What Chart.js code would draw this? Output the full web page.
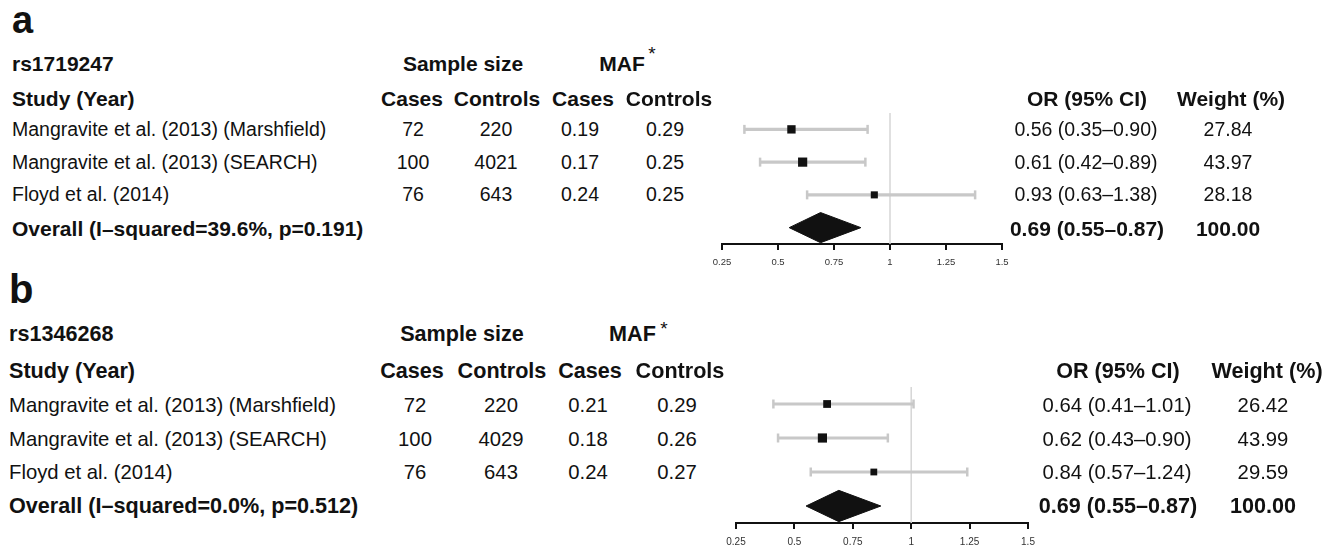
<!DOCTYPE html>
<html>
<head>
<meta charset="utf-8">
<script src="https://cdn.jsdelivr.net/npm/chart.js@4.4.1/dist/chart.umd.min.js"></script>
<style>
body { margin:0; background:#fff; width:1323px; height:545px; overflow:hidden; position:relative; }
.t { position:absolute; line-height:1; white-space:nowrap; font-family:'Liberation Sans', Arial, Helvetica, sans-serif; color:#111; }
.plot { position:absolute; }
</style>
</head>
<body>
<div class="plot" id="boxA"><canvas id="plotA"></canvas></div>
<div class="plot" id="boxB"><canvas id="plotB"></canvas></div>
<script>
// DATA
const studies = ['Mangravite et al. (2013) (Marshfield)', 'Mangravite et al. (2013) (SEARCH)', 'Floyd et al. (2014)'];
const xTicks = [0.25, 0.5, 0.75, 1, 1.25, 1.5];
const refValue = 1;

// rs1719247
const snpA = 'rs1719247';
const casesA = [72, 100, 76];
const controlsA = [220, 4021, 643];
const mafCasesA = ['0.19', '0.17', '0.24'];
const mafControlsA = ['0.29', '0.25', '0.25'];
const orA = [0.56, 0.61, 0.93];
const lowA = [0.35, 0.42, 0.63];
const highA = [0.90, 0.89, 1.38];
const weightA = [27.84, 43.97, 28.18];
const overallA = [0.69, 0.55, 0.87];   // OR, low, high
const overallWeightA = 100;
const hetA = 'Overall (I\u2013squared=39.6%, p=0.191)';

// rs1346268
const snpB = 'rs1346268';
const casesB = [72, 100, 76];
const controlsB = [220, 4029, 643];
const mafCasesB = ['0.21', '0.18', '0.24'];
const mafControlsB = ['0.29', '0.26', '0.27'];
const orB = [0.64, 0.62, 0.84];
const lowB = [0.41, 0.43, 0.57];
const highB = [1.01, 0.90, 1.24];
const weightB = [26.42, 43.99, 29.59];
const overallB = [0.69, 0.55, 0.87];
const overallWeightB = 100;
const hetB = 'Overall (I\u2013squared=0.0%, p=0.512)';

// LAYOUT (pixels)
const layoutA = {
  tag: 'a', tagX: 12, tagY: 20, tagSize: 38,
  left: 12, headY: 62.5, subY: 97.5, rowY: [130, 162.5, 195], allY: 228,
  headCols: [412, 497, 583, 669, 1087, 1231],
  cols: [413, 496, 580, 665, 1086, 1228],
  sampleX: 463, mafX: 622, starX: 652, starY: 53,
  norm: 19.5, bold: 21,
  box: { left: 702.3, top: 103, width: 320, height: 171 },
  tickSize: 9.5, boxR: [5.9, 6.5, 5.0]
};
const layoutB = {
  tag: 'b', tagX: 9, tagY: 289, tagSize: 40,
  left: 9, headY: 333.5, subY: 371, rowY: [405, 438.5, 472], allY: 506,
  headCols: [412, 502, 590, 680, 1118, 1267],
  cols: [415, 501, 588, 677, 1117, 1263],
  sampleX: 462, mafX: 632.5, starX: 664, starY: 328,
  norm: 20.3, bold: 21.6,
  box: { left: 716, top: 377, width: 332, height: 176 },
  tickSize: 10, boxR: [5.5, 6.5, 4.8]
};

function put(txt, x, y, size, bold, align) {
  var d = document.createElement('div');
  d.className = 't';
  d.textContent = txt;
  d.style.left = x + 'px';
  d.style.top = y + 'px';
  d.style.fontSize = size + 'px';
  d.style.fontWeight = bold ? 'bold' : 'normal';
  d.style.transform = align == 'c' ? 'translate(-50%,-50%)' : 'translate(0,-50%)';
  document.body.appendChild(d);
}

function ciText(o, l, h) {
  return o.toFixed(2) + ' (' + l.toFixed(2) + '\u2013' + h.toFixed(2) + ')';
}

function drawText(L, snp, cases, controls, mafC, mafK, or, low, high, weight, overall, overallWeight, het) {
  put(L.tag, L.tagX, L.tagY, L.tagSize, true, 'l');
  put(snp, L.left, L.headY, L.bold, true, 'l');
  put('Sample size', L.sampleX, L.headY, L.bold, true, 'c');
  put('MAF', L.mafX, L.headY, L.bold, true, 'c');
  put('*', L.starX, L.starY, 19, false, 'c');

  put('Study (Year)', L.left, L.subY, L.bold, true, 'l');
  var heads = ['Cases', 'Controls', 'Cases', 'Controls', 'OR (95% CI)', 'Weight (%)'];
  heads.forEach(function(h, j) { put(h, L.headCols[j], L.subY, L.bold, true, 'c'); });

  studies.forEach(function(s, i) {
    var y = L.rowY[i];
    put(s, L.left, y, L.norm, false, 'l');
    var vals = [cases[i], controls[i], mafC[i], mafK[i], ciText(or[i], low[i], high[i]), weight[i].toFixed(2)];
    vals.forEach(function(v, j) { put(String(v), L.cols[j], y, L.norm, false, 'c'); });
  });

  put(het, L.left, L.allY, L.bold, true, 'l');
  put(ciText(overall[0], overall[1], overall[2]), L.cols[4] + 1, L.allY, L.bold, true, 'c');
  put(overallWeight.toFixed(2), L.cols[5], L.allY, L.bold, true, 'c');
}

function makePlot(id, boxId, L, or, low, high, overall) {
  var box = document.getElementById(boxId);
  box.style.left = L.box.left + 'px';
  box.style.top = L.box.top + 'px';
  box.style.width = L.box.width + 'px';
  box.style.height = L.box.height + 'px';

  var datasets = [];
  datasets.push({
    data: [{ x: refValue, y: 0.5 }, { x: refValue, y: 4.5 }],
    showLine: true, borderColor: '#d6d6d6', borderWidth: 1.5, pointRadius: 0, order: 5
  });
  or.forEach(function(v, i) {
    datasets.push({
      data: [{ x: low[i], y: i + 1 }, { x: high[i], y: i + 1 }],
      showLine: true, borderColor: '#c8c8c8', borderWidth: 3.2,
      pointStyle: 'line', rotation: 90, pointRadius: 4.5,
      pointBorderColor: '#c8c8c8', pointBorderWidth: 2.5, order: 3
    });
  });
  datasets.push({
    data: or.map(function(v, i) { return { x: v, y: i + 1 }; }),
    pointStyle: 'rect', pointRadius: L.boxR, backgroundColor: '#111',
    pointBorderWidth: 0, borderWidth: 0, order: 1
  });
  var h = 0.46, yo = 4;
  datasets.push({
    data: [
      { x: overall[1], y: yo }, { x: overall[0], y: yo - h },
      { x: overall[2], y: yo }, { x: overall[0], y: yo + h }, { x: overall[1], y: yo }
    ],
    showLine: true, fill: 'shape', backgroundColor: '#111', borderColor: '#111',
    borderWidth: 1, pointRadius: 0, tension: 0, order: 2
  });

  return new Chart(document.getElementById(id), {
    type: 'scatter',
    data: { datasets: datasets },
    options: {
      responsive: true,
      maintainAspectRatio: false,
      animation: false,
      events: [],
      layout: { padding: { left: 20, right: 20, top: 10, bottom: 0 } },
      plugins: { legend: { display: false }, tooltip: { enabled: false } },
      scales: {
        x: {
          type: 'linear', position: 'bottom', min: 0.25, max: 1.5,
          afterBuildTicks: function(s) { s.ticks = xTicks.map(function(v) { return { value: v }; }); },
          afterFit: function(s) { s.height = 30; },
          grid: { drawOnChartArea: false, drawTicks: true, tickLength: 6, color: '#111', lineWidth: 2 },
          border: { display: true, color: '#111', width: 2 },
          ticks: {
            autoSkip: false, maxRotation: 0, padding: 7, color: '#333',
            font: { size: L.tickSize, family: 'Liberation Sans' },
            callback: function(v) { return String(v); }
          }
        },
        y: { type: 'linear', min: 0.5, max: 4.5, reverse: true, display: false }
      }
    }
  });
}

drawText(layoutA, snpA, casesA, controlsA, mafCasesA, mafControlsA, orA, lowA, highA, weightA, overallA, overallWeightA, hetA);
drawText(layoutB, snpB, casesB, controlsB, mafCasesB, mafControlsB, orB, lowB, highB, weightB, overallB, overallWeightB, hetB);
makePlot('plotA', 'boxA', layoutA, orA, lowA, highA, overallA);
makePlot('plotB', 'boxB', layoutB, orB, lowB, highB, overallB);
</script>
</body>
</html>
